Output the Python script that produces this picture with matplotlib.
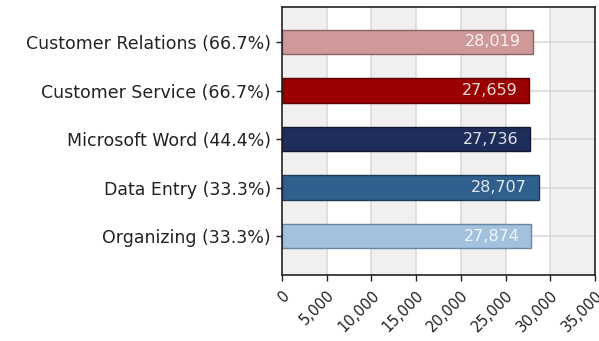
import matplotlib.pyplot as plt
from matplotlib.ticker import FuncFormatter

# salary by skill, share of postings in parentheses
skills = ['Customer Relations (66.7%)', 'Customer Service (66.7%)',
          'Microsoft Word (44.4%)', 'Data Entry (33.3%)', 'Organizing (33.3%)']
salaries = [28019, 27659, 27736, 28707, 27874]
colors = ['#cf999a', '#990000', '#1f2d5a', '#305f8e', '#a2c1de']
edges = ['#8a6464', '#5a0000', '#101830', '#1c3a58', '#6a88a4']
xticks = [0, 5000, 10000, 15000, 20000, 25000, 30000, 35000]

fig = plt.figure(figsize=(5.99, 3.41), dpi=100)
ax = fig.add_axes([0.4708, 0.1935, 0.5225, 0.786])

ypos = list(range(len(skills)))

# alternating vertical bands
for i in range(0, len(xticks) - 1, 2):
    ax.axvspan(xticks[i], xticks[i + 1], color='#f0f0f0', zorder=0, lw=0)
for x in xticks[1:-1]:
    ax.axvline(x, color='#dadada', lw=1.2, zorder=1)
for y in ypos:
    ax.axhline(y, color='#dadada', lw=1.2, zorder=1)

bars = ax.barh(ypos, salaries, height=0.5, color=colors, edgecolor=edges,
               linewidth=1, zorder=2)
for b, v in zip(bars, salaries):
    ax.text(v - 1300, b.get_y() + b.get_height() / 2, f'{v:,}',
            ha='right', va='center', color='white', alpha=0.85,
            fontsize=11.5, zorder=3)

ax.set_xlim(0, 35000)
ax.set_ylim(len(skills) - 0.2, -0.72)
ax.set_yticks(ypos)
ax.set_yticklabels(skills, fontsize=12.5, color='#222222')
ax.set_xticks(xticks)
ax.xaxis.set_major_formatter(FuncFormatter(lambda v, p: f'{int(v):,}'))
for lbl in ax.get_xticklabels():
    lbl.set_rotation(45)
    lbl.set_ha('right')
    lbl.set_rotation_mode('anchor')
    lbl.set_fontsize(10.5)
    lbl.set_color('#222222')
ax.tick_params(axis='both', length=4, width=1, color='#222222')
ax.tick_params(axis='x', pad=5)
ax.tick_params(axis='y', pad=4)
for s in ax.spines.values():
    s.set_color('#222222')
    s.set_linewidth(1.2)

fig.savefig('out.png', dpi=100)
